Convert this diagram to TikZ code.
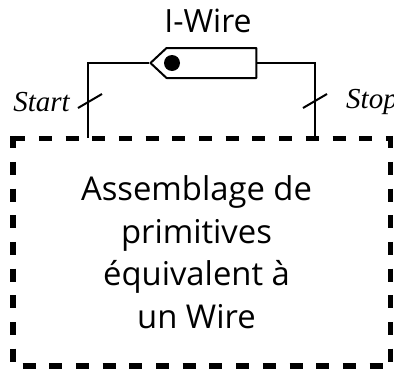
\documentclass[tikz,border=0pt]{standalone}
\usepackage{fontspec}
\setsansfont{Open Sans}
\setmainfont{Liberation Serif}
\usetikzlibrary{shapes.symbols,positioning,calc}

\begin{document}
\begin{tikzpicture}[
    x=1pt, y=-1pt,
    font=\sffamily,
    title/.style={
        font=\fontsize{32}{32}\selectfont\sffamily,
        inner sep=0pt
    },
    pin/.style={
        font=\fontsize{29}{29}\selectfont\itshape,
        inner sep=0pt
    },
    wirecell/.style={
        draw=black,
        signal,
        signal to=west,
        signal pointer angle=86,
        minimum width=106pt,
        minimum height=30pt,
        inner sep=0pt,
        line width=2pt,
        line join=round
    },
    bubble/.style={
        draw=none,
        fill=black,
        circle,
        minimum size=16pt,
        inner sep=0pt
    },
    assembly/.style={
        minimum width=377.5pt,
        minimum height=227.5pt,
        inner sep=0pt
    },
    notes/.style={
        align=center,
        inner sep=0pt,
        font=\fontsize{32.8}{42.5}\selectfont\sffamily
    },
    edge/.style={
        line width=5.5pt,
        dash pattern=on 13pt off 13.7pt,
        dash phase=#1
    },
    wire/.style={line width=2pt},
    slash/.style={line width=2pt}
]

\useasboundingbox (0,0) rectangle (394,370);

%-----------------------------------
% Cell and its label
%-----------------------------------
\node[wirecell, anchor=west] (Cell) at (149,63) {};
\node[bubble] (Dot) at (172,63) {};
\node[title] (Title) at (208,21) {I-Wire};

%-----------------------------------
% Dashed assembly
%-----------------------------------
\node[assembly] (Box) at (201.75,252.25) {};

\draw[edge=0.7] (Box.north west) -- (Box.north east);
\draw[edge=0.7] ([yshift=2.5pt]Box.north west) -- (Box.south west);
\draw[edge=0.7] ([yshift=2.5pt]Box.north east) -- (Box.south east);
\draw[edge=17] (Box.south west) -- (Box.south east);

\node[notes] (Notes) at (196.5,252) {%
Assemblage de\\
primitives\\
équivalent à\\
un Wire
};

%-----------------------------------
% Wires
%-----------------------------------
\coordinate (StartEnd) at (88,138);
\coordinate (StopEnd) at (315,138);

\draw[wire] (Cell.west) -| (StartEnd);
\draw[wire] (Cell.east) -| (StopEnd);

%-----------------------------------
% Bus marks
%-----------------------------------
\coordinate (StartMark) at (90,101);
\coordinate (StopMark) at (315,101);

\draw[slash] ($(StartMark)+(-12,7)$) -- ($(StartMark)+(12,-7)$);
\draw[slash] ($(StopMark)+(-12,7)$) -- ($(StopMark)+(12,-7)$);

\node[pin, anchor=east] (Start) at (70,102) {Start};
\node[pin, anchor=west] (Stop) at (346,102) {Stop};

\end{tikzpicture}
\end{document}
